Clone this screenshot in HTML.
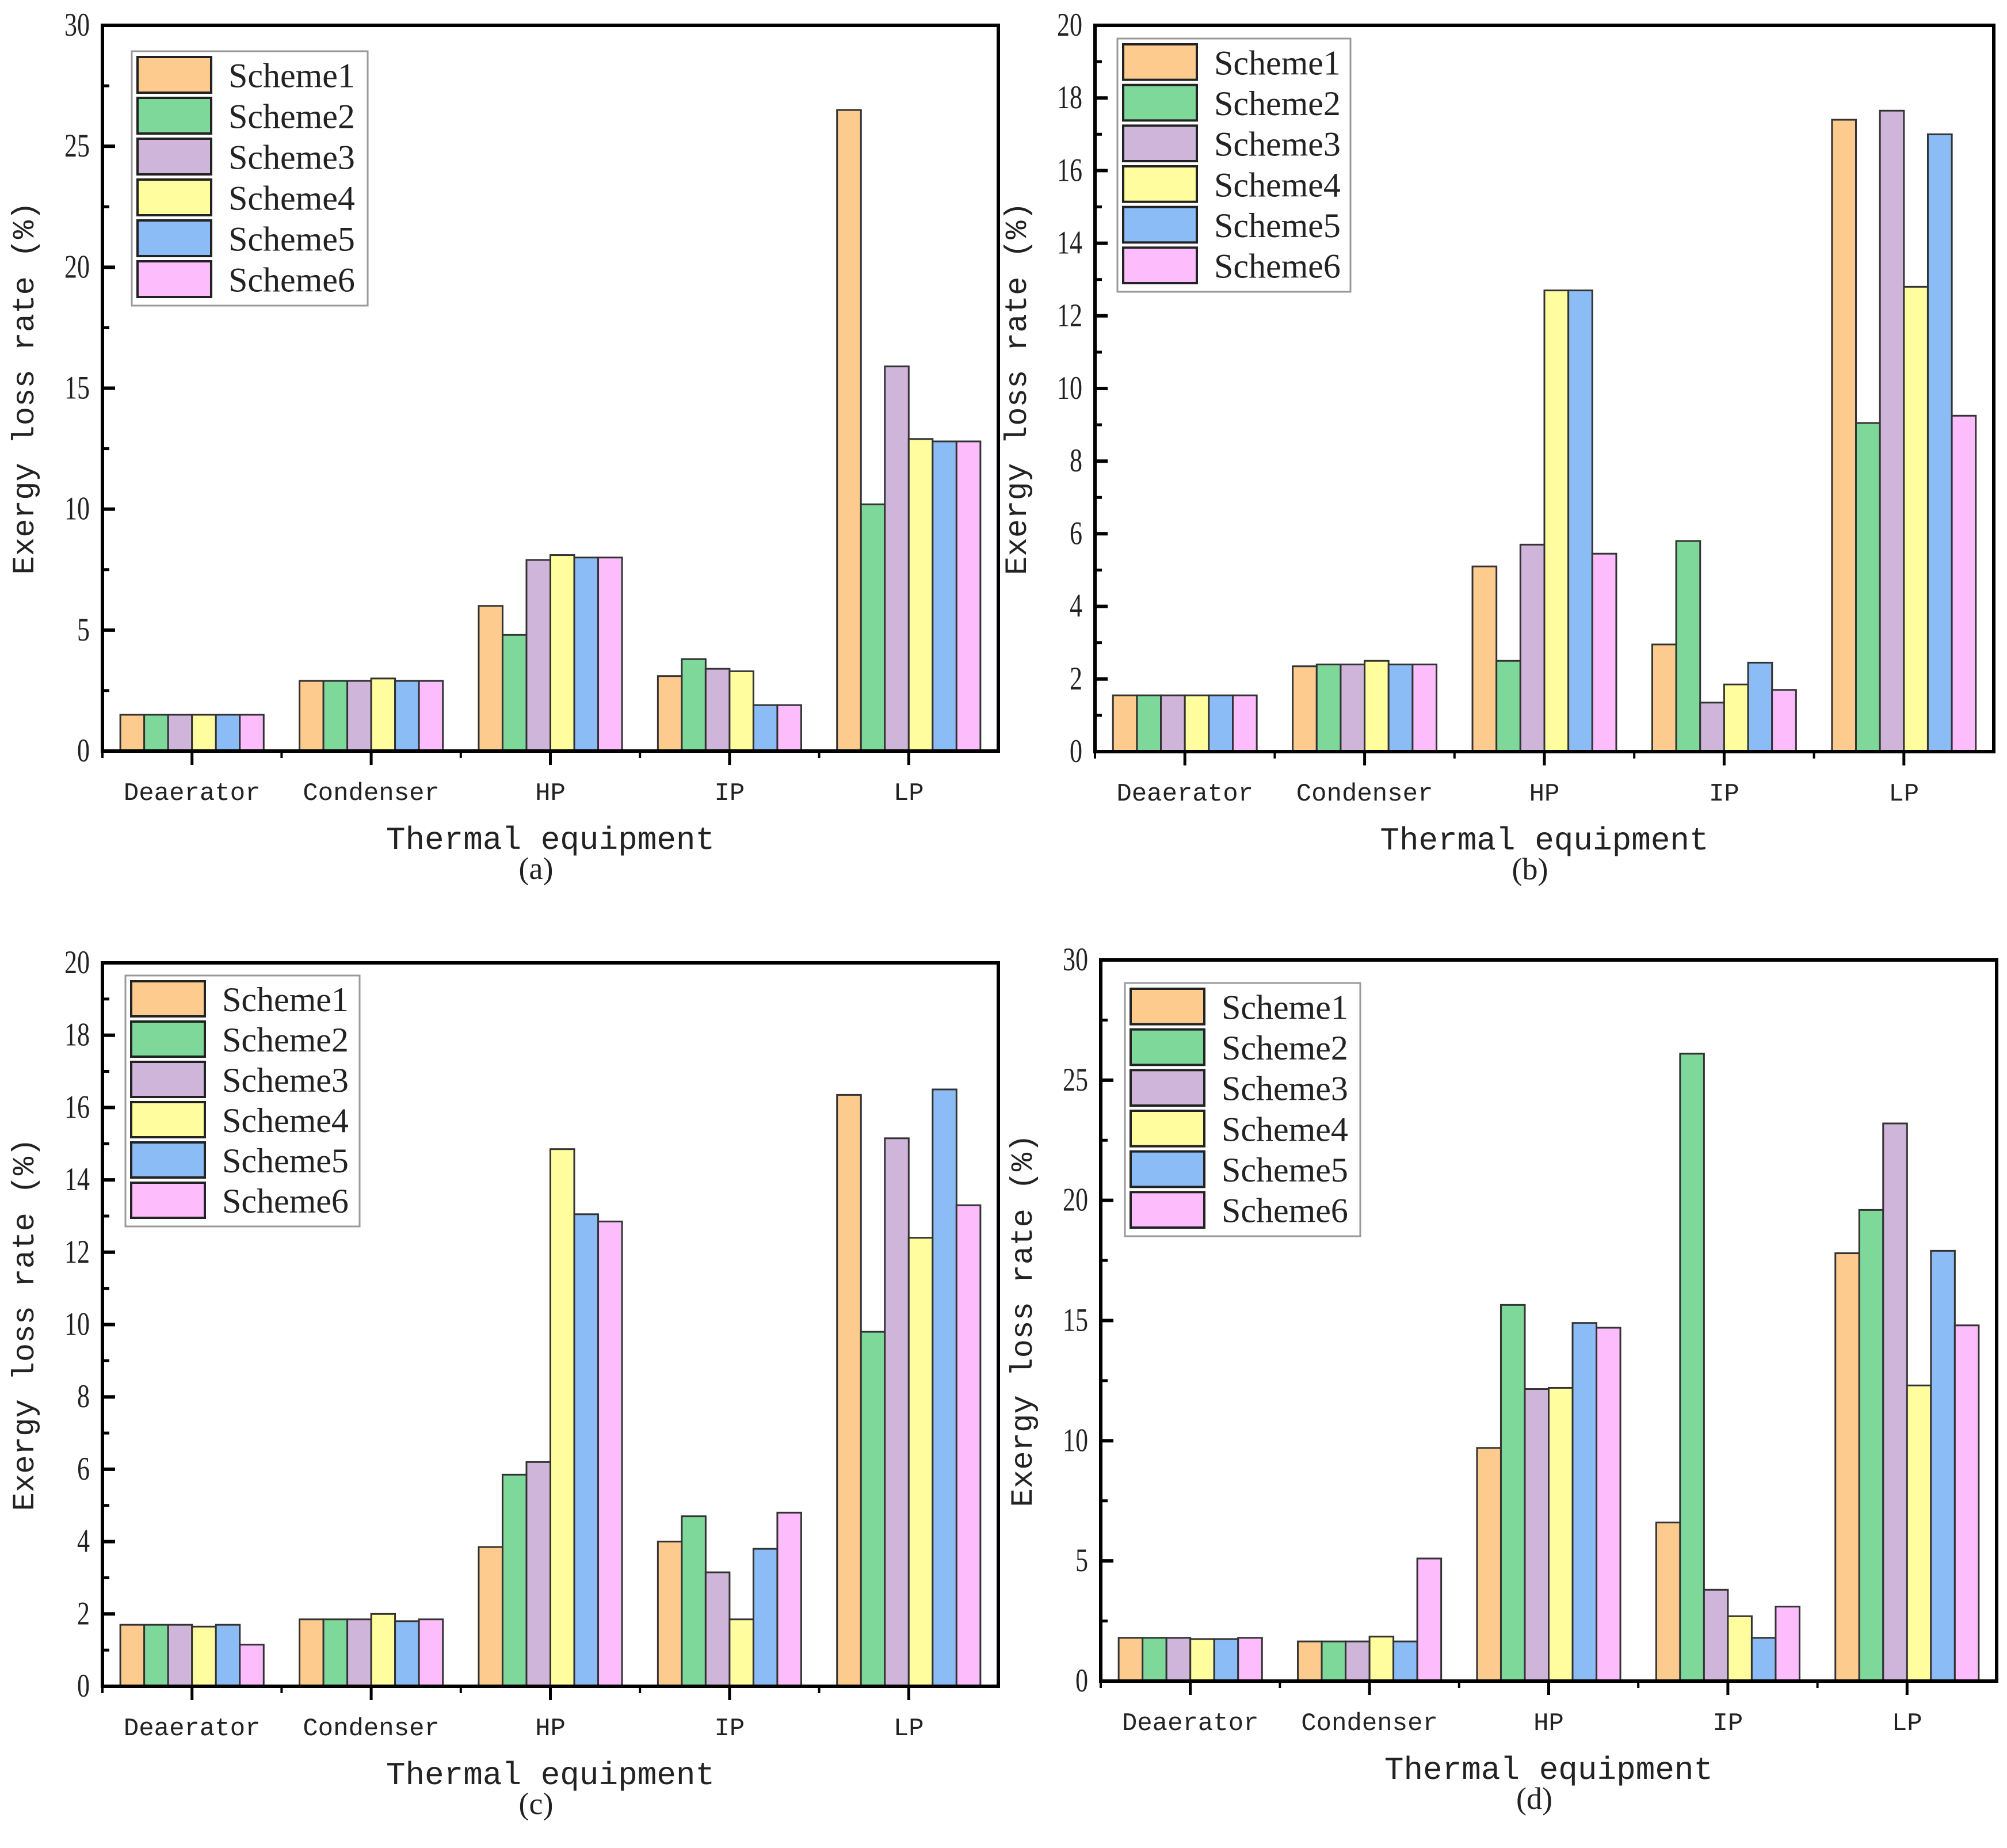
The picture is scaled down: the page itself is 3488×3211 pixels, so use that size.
<!DOCTYPE html>
<html><head><meta charset="utf-8"><style>
html,body{margin:0;padding:0;background:#fff;}
svg{display:block;}
text{font-family:"Liberation Serif","Noto Serif CJK SC",serif;fill:#222;}
.mono{font-family:"Liberation Mono",monospace;}
</style></head><body>
<svg id="chart" width="3488" height="3211" viewBox="0 0 3488 3211" xmlns="http://www.w3.org/2000/svg"></svg>
<script>
const categories = ["Deaerator","Condenser","HP","IP","LP"];
const schemes = ["Scheme1","Scheme2","Scheme3","Scheme4","Scheme5","Scheme6"];
const colors = ["#FECB8E","#7ED89A","#CFB5D9","#FFFD9E","#8BBCF5","#FDBDFD"];
// values[category][scheme]
const valuesA = [[1.5,1.5,1.5,1.5,1.5,1.5],[2.9,2.9,2.9,3.0,2.9,2.9],[6.0,4.8,7.9,8.1,8.0,8.0],[3.1,3.8,3.4,3.3,1.9,1.9],[26.5,10.2,15.9,12.9,12.8,12.8]];
const valuesB = [[1.55,1.55,1.55,1.55,1.55,1.55],[2.35,2.4,2.4,2.5,2.4,2.4],[5.1,2.5,5.7,12.7,12.7,5.45],[2.95,5.8,1.35,1.85,2.45,1.7],[17.4,9.05,17.65,12.8,17.0,9.25]];
const valuesC = [[1.7,1.7,1.7,1.65,1.7,1.15],[1.85,1.85,1.85,2.0,1.8,1.85],[3.85,5.85,6.2,14.85,13.05,12.85],[4.0,4.7,3.15,1.85,3.8,4.8],[16.35,9.8,15.15,12.4,16.5,13.3]];
const valuesD = [[1.8,1.8,1.8,1.75,1.75,1.8],[1.65,1.65,1.65,1.85,1.65,5.1],[9.7,15.65,12.15,12.2,14.9,14.7],[6.6,26.1,3.8,2.7,1.8,3.1],[17.8,19.6,23.2,12.3,17.9,14.8]];
const ticks30 = [0,5,10,15,20,25,30];
const ticks20 = [0,2,4,6,8,10,12,14,16,18,20];

const NS="http://www.w3.org/2000/svg";
const svg=document.getElementById('chart');
function mk(tag,attrs,parent){const e=document.createElementNS(NS,tag);for(const k in attrs)e.setAttribute(k,attrs[k]);(parent||svg).appendChild(e);return e;}

const panels=[
 {id:"a",vals:valuesA,ticks:ticks30,max:30,L:178,R:1735,T:44,B:1305,lg:[229,89,410,442]},
 {id:"b",vals:valuesB,ticks:ticks20,max:20,L:1903,R:3465,T:44,B:1306,lg:[1942,67,405,440]},
 {id:"c",vals:valuesC,ticks:ticks20,max:20,L:178,R:1735,T:1673,B:2930,lg:[218,1695,407,436]},
 {id:"d",vals:valuesD,ticks:ticks30,max:30,L:1913,R:3470,T:1668,B:2921,lg:[1955,1708,409,440]}
];

panels.forEach(p=>{
  const g=mk('g',{});
  
  
  const y=v=>p.B-(v/p.max)*(p.B-p.T);
  const band=(p.R-p.L)/categories.length;
  const bw=band*0.8/schemes.length;
  p.vals.forEach((row,ci)=>{
    const x0=p.L+band*ci+band*0.1;
    row.forEach((v,si)=>{
      const r=mk('rect',{x:x0+si*bw,y:y(v),width:bw,height:p.B-y(v),fill:colors[si],stroke:'#333','stroke-width':3},g);
      
      
    });
  });
  const fr=mk('rect',{x:p.L,y:p.T,width:p.R-p.L,height:p.B-p.T,fill:'none',stroke:'#000','stroke-width':6},g);
  
  
  const step=p.ticks[1]-p.ticks[0];
  p.ticks.forEach((t,i)=>{
    mk('line',{x1:p.L,x2:p.L+22,y1:y(t),y2:y(t),stroke:'#000','stroke-width':6},g);
    if(i<p.ticks.length-1){const m=t+step/2;mk('line',{x1:p.L,x2:p.L+12,y1:y(m),y2:y(m),stroke:'#000','stroke-width':5},g);}
    const yy=y(t)+18;
    const tx=mk('text',{x:p.L-22,y:yy,'text-anchor':'end','font-size':44,transform:`translate(0 ${yy}) scale(1 1.3) translate(0 ${-yy})`},g);
    tx.textContent=t;
    
    
  });
  categories.forEach((c,ci)=>{
    const cx=p.L+band*(ci+0.5);
    mk('line',{x1:cx,x2:cx,y1:p.B,y2:p.B+24,stroke:'#000','stroke-width':5},g);
    mk('line',{x1:p.L+band*ci,x2:p.L+band*ci,y1:p.B,y2:p.B+12,stroke:'#000','stroke-width':4},g);
    const tx=mk('text',{x:cx,y:p.B+85,'text-anchor':'middle','font-size':44,'class':'mono'},g);
    tx.textContent=c;
    
    
  });
  const xt=mk('text',{x:(p.L+p.R)/2,y:p.B+170,'text-anchor':'middle','font-size':56,'class':'mono'},g);
  xt.textContent='Thermal equipment';
  
  
  const cy=(p.T+p.B)/2;
  const yt=mk('text',{x:p.L-120,y:cy,'text-anchor':'middle','font-size':54,'class':'mono',transform:`rotate(-90 ${p.L-120} ${cy})`},g);
  yt.textContent='Exergy loss rate (%)';
  
  
  const sl=mk('text',{x:(p.L+p.R)/2-25,y:p.B+222,'text-anchor':'middle','font-size':54},g);
  sl.textContent='('+p.id+')';
  
  
  const [lx,ly,lw,lh]=p.lg;
  const lg=mk('g',{},g);
  
  
  mk('rect',{x:lx,y:ly,width:lw,height:lh,fill:'#fff',stroke:'#999','stroke-width':3},lg);
  const rh=(lh-16)/schemes.length;
  schemes.forEach((s,si)=>{
    const e=mk('g',{},lg);
    
    
    mk('rect',{x:lx+10,y:ly+10+si*rh,width:128,height:rh-9,fill:colors[si],stroke:'#222','stroke-width':4},e);
    const t=mk('text',{x:lx+168,y:ly+10+si*rh+rh*0.74,'font-size':60},e);
    t.textContent=s;
  });
  svg.appendChild(g);
});
</script>
</body></html>
